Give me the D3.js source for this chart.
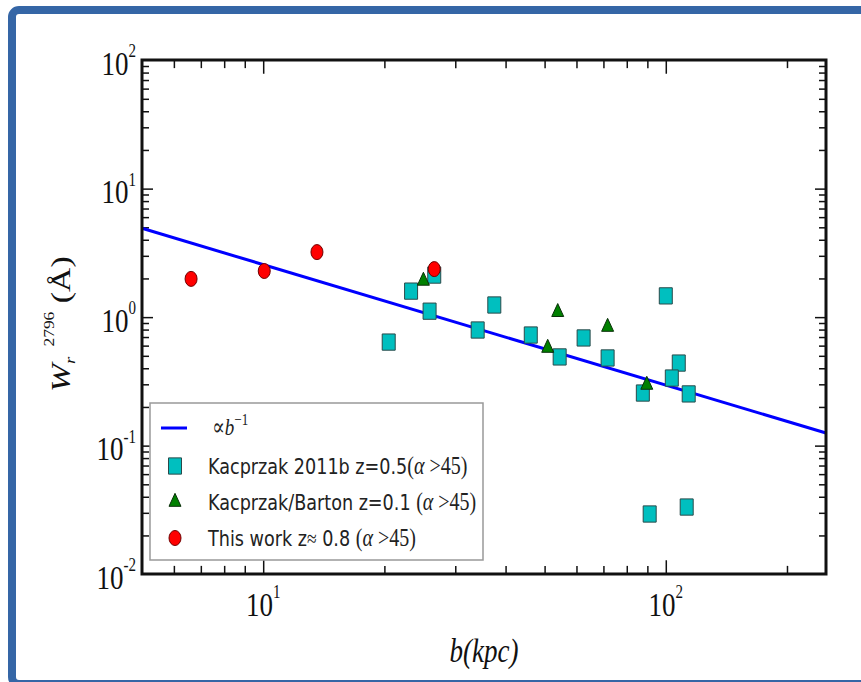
<!DOCTYPE html>
<html>
<head>
<meta charset="utf-8">
<script src="https://cdn.jsdelivr.net/npm/d3@7"></script>
<style>
  body { margin: 0; background: #fff; }
  svg { display: block; }
</style>
</head>
<body>
<div id="chart"></div>
<script>
// values: b in kpc, W in Angstrom
const kacB = [20.5, 23.3, 25.9, 26.6, 34.1, 37.5, 46.2, 54.5, 62.5, 71.7, 100, 107.7, 103.5, 87.7, 114, 91.2, 112.7];
const kacW = [0.638, 1.59, 1.11, 2.12, 0.792, 1.24, 0.724, 0.489, 0.687, 0.480, 1.46, 0.438, 0.335, 0.256, 0.252, 0.0293, 0.0332];
const bartB = [25.0, 53.9, 50.9, 71.7, 89.7];
const bartW = [1.91, 1.09, 0.574, 0.836, 0.296];
const thisB = [6.62, 10.06, 13.6, 26.6];
const thisW = [1.98, 2.28, 3.2, 2.36];
const fitB = [5, 250];
const fitW = [4.9, 0.125];
const xMajor = [10, 100];
const xExp = ["1", "2"];
const yMajor = [0.01, 0.1, 1, 10, 100];
const yExp = ["-2", "-1", "0", "1", "2"];

const W = 861, H = 682;
const S = 1.25; // the figure is stretched vertically

const svg = d3.select("#chart").append("svg")
    .attr("width", W)
    .attr("height", H);

// blue page frame
svg.append("rect")
    .attr("x", 12).attr("y", 10)
    .attr("width", 900).attr("height", 674)
    .attr("rx", 7)
    .attr("fill", "none")
    .attr("stroke", "#3566a6")
    .attr("stroke-width", 8);

const g = svg.append("g").attr("transform", `scale(1,${S})`);

const pL = 142, pR = 826, pT = 60 / S, pB = 574 / S;

const x = d3.scaleLog().domain([5, 250]).range([pL, pR]);
const y = d3.scaleLog().domain([0.01, 100]).range([pB, pT]);

const xMinor = x.ticks().filter(d => !xMajor.includes(d) && d > 5 && d < 250);
const yMinor = y.ticks().filter(d => !yMajor.includes(d));

function axis(gen, tr, vals, len) {
  const a = g.append("g")
      .attr("transform", tr)
      .call(gen.tickValues(vals).tickSize(-len).tickFormat(""));
  a.select(".domain").remove();
  a.selectAll("line")
      .attr("stroke", "#111")
      .attr("stroke-width", 1.5)
      .attr("vector-effect", "non-scaling-stroke");
}
axis(d3.axisBottom(x), `translate(0,${pB})`, xMinor, 6.5);
axis(d3.axisBottom(x), `translate(0,${pB})`, xMajor, 11);
axis(d3.axisTop(x), `translate(0,${pT})`, xMinor, 6.5);
axis(d3.axisTop(x), `translate(0,${pT})`, xMajor, 11);
axis(d3.axisLeft(y), `translate(${pL},0)`, yMinor, 7);
axis(d3.axisLeft(y), `translate(${pL},0)`, yMajor.slice(1, -1), 11);
axis(d3.axisRight(y), `translate(${pR},0)`, yMinor, 7);
axis(d3.axisRight(y), `translate(${pR},0)`, yMajor.slice(1, -1), 11);

// tick labels
const serif = "'Liberation Serif', 'DejaVu Serif', serif";
const xl = g.selectAll(".xl").data(xMajor).enter().append("text")
    .attr("x", d => x(d))
    .attr("y", 616 / S)
    .attr("text-anchor", "middle")
    .attr("font-family", serif)
    .attr("font-size", 27)
    .attr("fill", "#111");
xl.append("tspan").text("10");
xl.append("tspan").attr("font-size", 15).attr("dy", -14).text((d, i) => xExp[i]);

const yl = g.selectAll(".yl").data(yMajor).enter().append("text")
    .attr("x", 136)
    .attr("y", d => y(d) + 12)
    .attr("text-anchor", "end")
    .attr("font-family", serif)
    .attr("font-size", 27)
    .attr("fill", "#111");
yl.append("tspan").text("10");
yl.append("tspan").attr("font-size", 15).attr("dy", -14).text((d, i) => yExp[i]);

// fit line
g.append("path")
    .datum(fitB.map((b, i) => [b, fitW[i]]))
    .attr("fill", "none")
    .attr("stroke", "#0000ff")
    .attr("stroke-width", 3)
    .attr("vector-effect", "non-scaling-stroke")
    .attr("d", d3.line().x(d => x(d[0])).y(d => y(d[1])));

// markers
function squares(sel, cx, cy) {
  sel.append("rect")
      .attr("x", cx - 6.5).attr("y", cy - 6.5)
      .attr("width", 13).attr("height", 13)
      .attr("fill", "#00bfbf")
      .attr("stroke", "#2a4a4a")
      .attr("stroke-width", 1)
      .attr("vector-effect", "non-scaling-stroke");
}
function triangles(sel, cx, cy) {
  sel.append("path")
      .attr("transform", `translate(${cx},${cy})`)
      .attr("d", d3.symbol(d3.symbolTriangle, 62)())
      .attr("fill", "#008000")
      .attr("stroke", "#0a300a")
      .attr("stroke-width", 1)
      .attr("vector-effect", "non-scaling-stroke");
}
function circles(sel, cx, cy) {
  sel.append("circle")
      .attr("cx", cx).attr("cy", cy).attr("r", 6)
      .attr("fill", "#ff0000")
      .attr("stroke", "#700000")
      .attr("stroke-width", 1)
      .attr("vector-effect", "non-scaling-stroke");
}
kacB.forEach((b, i) => squares(g, x(b), y(kacW[i])));
bartB.forEach((b, i) => triangles(g, x(b), y(bartW[i])));
thisB.forEach((b, i) => circles(g, x(b), y(thisW[i])));

// plot frame
g.append("rect")
    .attr("x", pL).attr("y", pT)
    .attr("width", pR - pL).attr("height", pB - pT)
    .attr("fill", "none")
    .attr("stroke", "#111")
    .attr("stroke-width", 3)
    .attr("vector-effect", "non-scaling-stroke");

// legend
const sans = "'DejaVu Sans', sans-serif";
g.append("rect")
    .attr("x", 150).attr("y", 403 / S)
    .attr("width", 333).attr("height", (560 - 403) / S)
    .attr("fill", "#fff")
    .attr("stroke", "#999")
    .attr("stroke-width", 1.5)
    .attr("vector-effect", "non-scaling-stroke");

const rowY = [428, 466, 502, 538].map(v => v / S);
g.append("line")
    .attr("x1", 161).attr("x2", 187)
    .attr("y1", rowY[0]).attr("y2", rowY[0])
    .attr("stroke", "#0000ff").attr("stroke-width", 3)
    .attr("vector-effect", "non-scaling-stroke");
squares(g, 175, rowY[1]);
triangles(g, 175, rowY[2]);
circles(g, 175, rowY[3]);

const t0 = g.append("text").attr("x", 212).attr("y", rowY[0] + 6)
    .attr("font-family", serif).attr("font-size", 19).attr("fill", "#222");
t0.append("tspan").text("\u221D");
t0.append("tspan").attr("font-style", "italic").text("b");
t0.append("tspan").attr("font-size", 13).attr("dy", -8).text("\u22121");

function alphaPart(t) {
  t.append("tspan").attr("font-family", serif).attr("font-size", 20).text("(");
  t.append("tspan").attr("font-family", serif).attr("font-size", 20).attr("font-style", "italic").text("\u03B1");
  t.append("tspan").attr("font-family", serif).attr("font-size", 20).text(" >45)");
}
function row(i) {
  return g.append("text").attr("x", 208).attr("y", rowY[i] + 6.5)
      .attr("font-family", sans).attr("font-size", 17.6).attr("fill", "#222");
}
const t1 = row(1);
t1.append("tspan").text("Kacprzak 2011b z=0.5");
alphaPart(t1);
const t2 = row(2);
t2.append("tspan").text("Kacprzak/Barton z=0.1 ");
alphaPart(t2);
const t3 = row(3);
t3.append("tspan").text("This work z");
t3.append("tspan").attr("font-family", serif).text("\u2248");
t3.append("tspan").text(" 0.8 ");
alphaPart(t3);

// axis titles
g.append("text")
    .attr("x", (pL + pR) / 2)
    .attr("y", 662 / S)
    .attr("text-anchor", "middle")
    .attr("font-family", serif)
    .attr("font-style", "italic")
    .attr("font-size", 27)
    .attr("fill", "#111")
    .text("b(kpc)");

const yt = g.append("text")
    .attr("transform", `translate(70,${392 / S}) rotate(-90)`)
    .attr("font-family", serif)
    .attr("font-size", 27)
    .attr("fill", "#111");
yt.append("tspan").attr("font-style", "italic").text("W");
yt.append("tspan").attr("font-style", "italic").attr("font-size", 15).attr("dy", 5).text("r");
yt.append("tspan").attr("font-size", 14).attr("dx", 8).attr("dy", -21).text("2796");
yt.append("tspan").attr("dy", 16).text(" (\u00C5)");
</script>
</body>
</html>
